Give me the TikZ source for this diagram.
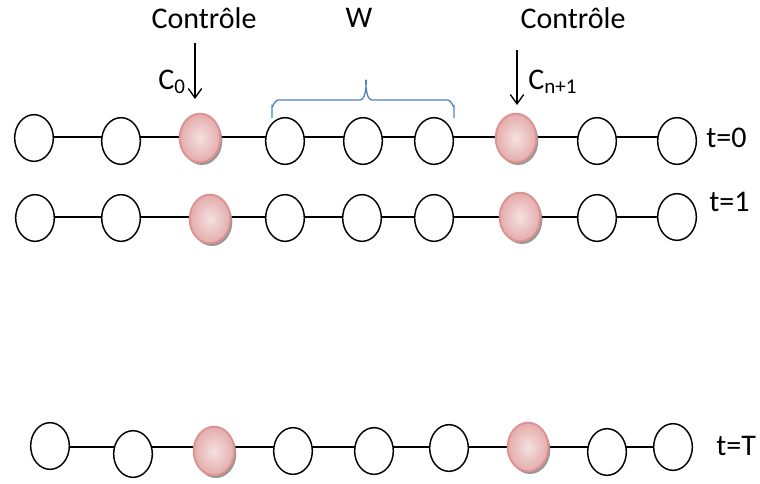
\documentclass[tikz,border=0pt]{standalone}
\usepackage{fontspec}
\setmainfont{Carlito}
\usetikzlibrary{shapes.geometric,shadows,arrows.meta,backgrounds}
\definecolor{pinklight}{RGB}{245,225,225}
\definecolor{pinkdark}{RGB}{228,172,172}
\definecolor{pinkedge}{RGB}{222,145,145}
\definecolor{bracecol}{RGB}{79,129,189}

\begin{document}
\begin{tikzpicture}[x=0.75pt,y=-0.75pt,
  site/.style={ellipse,draw,line width=1.1pt,fill=white,minimum width=29pt,minimum height=35pt,inner sep=0pt},
  ctrlsite/.style={site,draw=pinkedge,line width=1.4pt,inner color=pinklight,outer color=pinkdark,minimum width=30.5pt,minimum height=36.5pt,drop shadow={shadow xshift=1.5pt,shadow yshift=-2pt,fill=black!45,opacity=0.9}},
  link/.style={line width=1pt},
  lbl/.style={font=\fontsize{22.5}{27}\selectfont,inner sep=0pt},
  ctrl/.style={line width=1pt,-{Straight Barb[length=7pt,width=10pt]}}]

\useasboundingbox (0,0) rectangle (760,483);

% t=0
\node[site] (a1) at (34,138) {};
\node[site] (a2) at (121,141) {};
\node[ctrlsite] (a3) at (200,138) {};
\node[site] (a4) at (285,141) {};
\node[site] (a5) at (363,141) {};
\node[site] (a6) at (434,141) {};
\node[ctrlsite] (a7) at (516,138) {};
\node[site] (a8) at (597,141) {};
\node[site] (a9) at (677,141) {};

% t=1
\node[site] (b1) at (35,218) {};
\node[site] (b2) at (121,218) {};
\node[ctrlsite] (b3) at (210,219) {};
\node[site] (b4) at (285,218) {};
\node[site] (b5) at (362,218) {};
\node[site] (b6) at (434,218) {};
\node[ctrlsite] (b7) at (520,217) {};
\node[site] (b8) at (597,218) {};
\node[site] (b9) at (677,217) {};

% t=T
\node[site] (c1) at (50,446) {};
\node[site] (c2) at (133,454) {};
\node[ctrlsite] (c3) at (214,451) {};
\node[site] (c4) at (293,451) {};
\node[site] (c5) at (374,451) {};
\node[site] (c6) at (449,448) {};
\node[ctrlsite] (c7) at (528,447) {};
\node[site] (c8) at (607,452) {};
\node[site] (c9) at (673,447) {};

% chain links, behind the sites
\coordinate (rowa) at (0,137);
\coordinate (rowb) at (0,217);
\coordinate (rowc) at (0,447);
\begin{scope}[on background layer]
\draw[link] (a1 |- rowa) -- (a9 |- rowa);
\draw[link] (b1 |- rowb) -- (b9 |- rowb);
\draw[link] (c1 |- rowc) -- (c9 |- rowc);
\end{scope}

% labels
\node[lbl] (ctrlL) at (204,18) {Contrôle};
\node[lbl] (win) at (359,18) {W};
\node[lbl] (ctrlR) at (573,18) {Contrôle};
\node[lbl,anchor=base east] (cin) at (186,89) {C\textsubscript{0}};
\node[lbl,anchor=base west] (cout) at (528,89) {C\textsubscript{n+1}};
\node[lbl,anchor=west] (t0) at (706,138) {t=0};
\node[lbl,anchor=west] (t1) at (709,202) {t=1};
\node[lbl,anchor=west] (tT) at (716,446) {t=T};

% control arrows
\coordinate (inL) at (195,43);
\coordinate (outL) at (195,99);
\coordinate (inR) at (517,50);
\coordinate (outR) at (517,105);
\draw[ctrl] (inL) -- (outL);
\draw[ctrl] (inR) -- (outR);

% window brace
\draw[bracecol,line width=1pt] (272,118) -- (272,106) to[out=-90,in=180] (278,100) -- (360,100) to[out=0,in=90] (366,81) to[out=90,in=180] (372,100) -- (448,100) to[out=0,in=-90] (454,106) -- (454,118);

\end{tikzpicture}
\end{document}
